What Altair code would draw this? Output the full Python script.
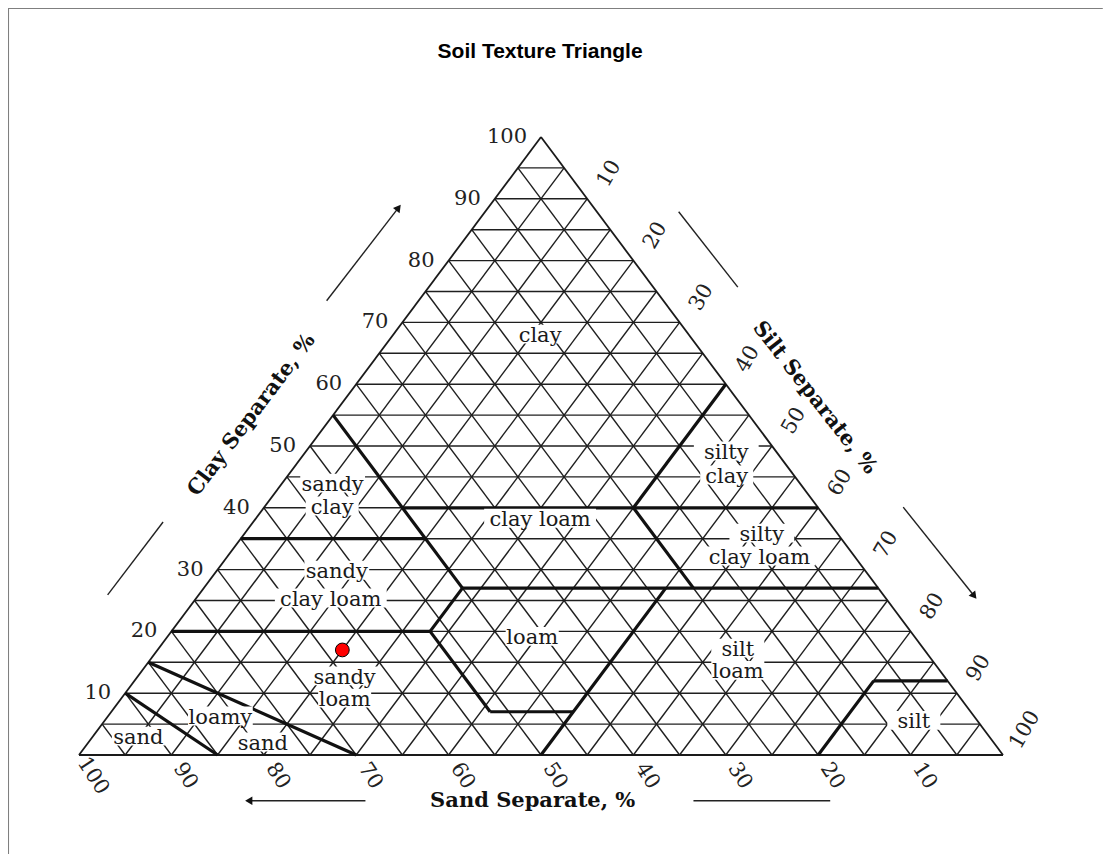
import math
import altair as alt
import pandas as pd

# ---------------- data ----------------
grid_values = list(range(5, 100, 5))          # 5 % grid lines of each separate
tick_values = list(range(10, 101, 10))        # axis numbers

# texture-class boundaries: (sand, clay) -> (sand, clay)
boundary_sand1 = [45, 45, 20, 65, 45, 20, 80, 52, 52, 52, 50, 20, 8, 85, 90]
boundary_clay1 = [55, 40, 40, 35, 27, 40, 20, 20, 20, 7, 0, 0, 12, 15, 10]
boundary_sand2 = [45, 0, 0, 45, 0, 20, 52, 45, 52, 43, 23, 8, 0, 70, 85]
boundary_clay2 = [27, 40, 60, 35, 27, 27, 20, 27, 7, 7, 27, 12, 12, 0, 0]

# texture-class labels (positions in sand % / clay %)
label_text = ["clay", "silty", "clay", "silty", "clay loam", "sandy", "clay",
              "clay loam", "sandy", "clay loam", "loam", "silt", "loam",
              "sandy", "loam", "loamy", "sand", "sand", "silt"]
label_sand = [16.2, 5.5, 7.4, 8.3, 10.4, 50.7, 52.6, 31.1, 57.3, 60.2, 41.5,
              20.2, 22.0, 65.0, 66.8, 81.7, 92.2, 79.2, 7.0]
label_clay = [67.8, 48.9, 45.0, 35.6, 31.9, 43.7, 40.0, 38.0, 29.6, 25.1, 18.9,
              17.0, 13.4, 12.5, 8.9, 6.0, 2.75, 1.8, 5.3]

# sample point
sample_sand = [63]
sample_silt = [20]
sample_clay = [17]

# axis titles: text, x, y (chart units), angle
title_text = ["Clay Separate, %", "Silt Separate, %", "Sand Separate, %"]
title_x = [18.7, 79.6, 49.1]
title_y = [55.0, 57.8, -7.4]
title_angle = [307, 52, 0]

# direction arrows / lines (chart units): x1, y1, x2, y2, head angle
deco_x1 = [26.8, 9.1, 64.9, 89.2, 31.0, 66.5]
deco_y1 = [73.5, 37.7, 87.9, 40.1, -7.4, -7.4]
deco_x2 = [34.5, 3.1, 71.3, 96.8, 18.5, 81.3]
deco_y2 = [88.4, 25.9, 75.7, 25.9, -7.4, -7.4]
deco_head = [37.7, None, None, 141.5, 270, None]

FRAME_X = [-7.68, 110.8]
FRAME_Y = [-16.0, 120.87]

PX_PER_X = 9.24     # plot pixels per chart unit (x)
PX_PER_Y = 6.18     # plot pixels per chart unit (y)
LABEL_SIZE = 21


def tx(sand, clay):
    return 100 - sand - clay / 2.0


def rot_offset(sx, sy, angle):
    """screen offset -> dx/dy in the text's rotated frame"""
    a = math.radians(angle)
    return (math.cos(a) * sx + math.sin(a) * sy,
            -math.sin(a) * sx + math.cos(a) * sy)


# ---------------- tables ----------------
grid_rows = []
for k in grid_values:
    grid_rows.append(dict(x=tx(100 - k, k), y=k, x2=tx(0, k), y2=k))
    grid_rows.append(dict(x=tx(k, 0), y=0, x2=tx(k, 100 - k), y2=100 - k))
    grid_rows.append(dict(x=tx(100 - k, 0), y=0, x2=tx(0, 100 - k), y2=100 - k))
grid_df = pd.DataFrame(grid_rows)

edge_df = pd.DataFrame([
    dict(x=0, y=0, x2=100, y2=0),
    dict(x=0, y=0, x2=50, y2=100),
    dict(x=100, y=0, x2=50, y2=100),
])

bound_df = pd.DataFrame(dict(
    x=[tx(s, c) for s, c in zip(boundary_sand1, boundary_clay1)],
    y=boundary_clay1,
    x2=[tx(s, c) for s, c in zip(boundary_sand2, boundary_clay2)],
    y2=boundary_clay2,
))

lx = [tx(s, c) for s, c in zip(label_sand, label_clay)]
label_df = pd.DataFrame(dict(text=label_text, x=lx, y=label_clay))
half_w = [(0.56 * LABEL_SIZE * len(t) + 6) / 2 / PX_PER_X for t in label_text]
half_h = 0.45 * LABEL_SIZE / PX_PER_Y
box_df = pd.DataFrame(dict(
    x=[a - w for a, w in zip(lx, half_w)],
    x2=[a + w for a, w in zip(lx, half_w)],
    y=[c - half_h + 0.3 for c in label_clay],
    y2=[c + half_h + 0.3 for c in label_clay],
))

sample_df = pd.DataFrame(dict(
    x=[tx(s, c) for s, c in zip(sample_sand, sample_clay)],
    y=sample_clay,
))

clay_ticks = pd.DataFrame(dict(text=[str(v) for v in tick_values],
                               x=[v / 2 for v in tick_values], y=tick_values))
silt_ticks = pd.DataFrame(dict(text=[str(v) for v in tick_values],
                               x=[50 + v / 2 for v in tick_values],
                               y=[100 - v for v in tick_values]))
sand_ticks = pd.DataFrame(dict(text=[str(v) for v in tick_values],
                               x=[100 - v for v in tick_values],
                               y=[0 for v in tick_values]))

titles_df = pd.DataFrame(dict(text=title_text, x=title_x, y=title_y, angle=title_angle))

deco_df = pd.DataFrame(dict(x=deco_x1, y=deco_y1, x2=deco_x2, y2=deco_y2))
head_df = pd.DataFrame(dict(x=deco_x2, y=deco_y2, ang=deco_head)).dropna()

frame_df = pd.DataFrame([
    dict(x=FRAME_X[0], y=FRAME_Y[1], x2=FRAME_X[1], y2=FRAME_Y[1]),
    dict(x=FRAME_X[0], y=FRAME_Y[0], x2=FRAME_X[0], y2=FRAME_Y[1]),
])

main_title = pd.DataFrame(dict(text=["Soil Texture Triangle"], x=[49.9], y=[113.75]))

# ---------------- chart ----------------
xs = alt.Scale(domain=[0, 100], nice=False, zero=False)
ys = alt.Scale(domain=[0, 100], nice=False, zero=False)
X = lambda f="x:Q": alt.X(f, scale=xs, axis=None)
Y = lambda f="y:Q": alt.Y(f, scale=ys, axis=None)


def seg(df, **mk):
    return alt.Chart(df).mark_rule(**mk).encode(x=X(), y=Y(), x2="x2:Q", y2="y2:Q")


def txt(df, **mk):
    return alt.Chart(df).mark_text(**mk).encode(x=X(), y=Y(), text="text:N")


grid = seg(grid_df, color="#1f1f1f", strokeWidth=1.4)
edges = seg(edge_df, color="#1a1a1a", strokeWidth=1.8)
bounds = seg(bound_df, color="#111111", strokeWidth=3.2)

boxes = alt.Chart(box_df).mark_rect(color="white").encode(
    x=X(), y=Y(), x2="x2:Q", y2="y2:Q")
labels = txt(label_df, color="#1a1a1a", font="DejaVu Serif", fontSize=LABEL_SIZE,
             baseline="middle")

tick_font = dict(font="DejaVu Serif", fontSize=21, color="#222222")
clay_t = txt(clay_ticks, align="right", baseline="middle", dx=-14, **tick_font)
sdx, sdy = rot_offset(22, -25, 300)
silt_t = txt(silt_ticks, align="center", baseline="middle", dx=sdx, dy=sdy,
             angle=300, **tick_font)
bdx, bdy = rot_offset(14, 21, 57)
sand_t = txt(sand_ticks, align="center", baseline="middle", dx=bdx, dy=bdy,
             angle=57, **tick_font)

titles = alt.Chart(titles_df).mark_text(
    font="DejaVu Serif", fontSize=21, fontWeight="bold", color="#111111",
    align="center", baseline="middle",
).encode(x=X(), y=Y(), text="text:N", angle=alt.Angle("angle:Q", scale=None))

deco = seg(deco_df, color="#222222", strokeWidth=1.4)
heads = alt.Chart(head_df).mark_point(
    shape="triangle", filled=True, color="#111111", size=70, opacity=1,
).encode(x=X(), y=Y(), angle=alt.Angle("ang:Q", scale=None))

frame = seg(frame_df, color="#7f7f7f", strokeWidth=2)

sample = alt.Chart(sample_df).mark_point(
    shape="circle", filled=True, color="red", stroke="black", strokeWidth=1,
    size=190, opacity=1,
).encode(x=X(), y=Y())

head_title = txt(main_title, font="Liberation Sans", fontSize=21, fontWeight="bold",
                 color="black", align="center", baseline="middle")

chart = alt.layer(
    frame, grid, edges, bounds, boxes, labels, clay_t, silt_t, sand_t,
    titles, deco, heads, sample, head_title,
).properties(
    width=924, height=618,
    padding={"left": 71, "top": 129, "right": 100, "bottom": 99},
    autosize=alt.AutoSizeParams(type="none"),
    background="white",
).configure_view(stroke=None)

chart.save("out.html", embed_options={"renderer": "svg", "actions": False})
